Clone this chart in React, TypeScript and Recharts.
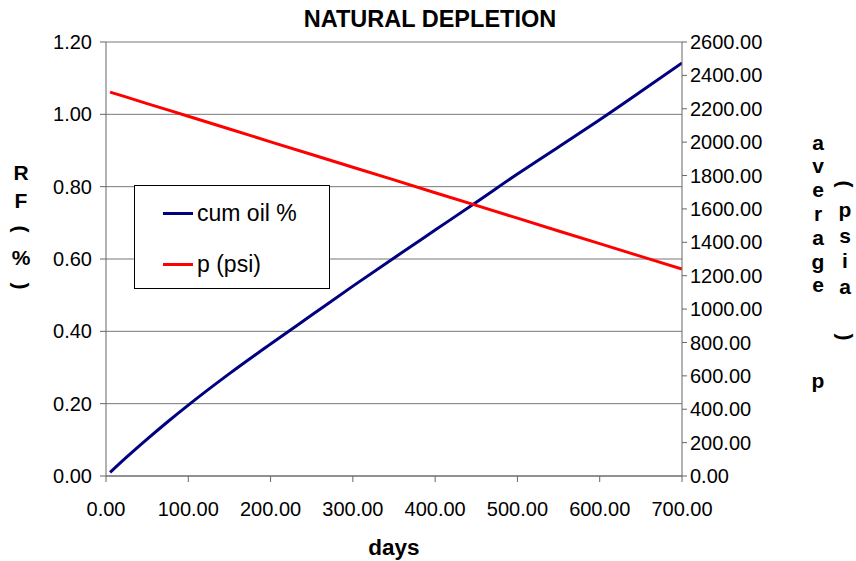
import React from "react";
import {
  LineChart,
  Line,
  XAxis,
  YAxis,
  CartesianGrid,
} from "recharts";

// Days since start of production
const days = [5, 25, 50, 75, 100, 150, 200, 250, 300, 350, 400, 450, 500, 550, 600, 650, 700];
// Cumulative oil recovery factor (%)
const cumOil = [0.01, 0.052, 0.102, 0.15, 0.196, 0.283, 0.365, 0.445, 0.525, 0.603, 0.68, 0.757, 0.835, 0.91, 0.985, 1.063, 1.142];
// Average reservoir pressure (psi)
const pressure = [2300, 2270, 2231, 2193, 2155, 2079, 2002, 1926, 1850, 1774, 1697, 1621, 1545, 1468, 1392, 1316, 1240];

const xTicks = [0, 100, 200, 300, 400, 500, 600, 700];
const leftTicks = [0, 0.2, 0.4, 0.6, 0.8, 1.0, 1.2];
const rightTicks = [0, 200, 400, 600, 800, 1000, 1200, 1400, 1600, 1800, 2000, 2200, 2400, 2600];

const title = "NATURAL DEPLETION";
const xTitle = "days";
const leftTitle = ["R", "F", "(", "%", ")"];
const rightTitleCol1 = ["a", "v", "e", "r", "a", "g", "e", "", "", "", "p"];
const rightTitleCol2 = ["(", "p", "s", "i", "a", "", ")"];

const seriesNames = { oil: "cum oil %", p: "p (psi)" };
const colors = { oil: "#000080", p: "#FF0000" };

const data = days.map((d, i) => ({ day: d, oil: cumOil[i], p: pressure[i] }));

const FONT = "'Liberation Sans', Arial, sans-serif";
const fmt = (v: number) => v.toFixed(2);

// One character of a vertically stacked title; brackets are turned sideways
function StackedChar({ ch, x, y }: { ch: string; x: number; y: number }) {
  if (!ch) return null;
  const isBracket = ch === "(" || ch === ")";
  return (
    <text
      x={x}
      y={y}
      textAnchor="middle"
      dominantBaseline="central"
      fontFamily={FONT}
      fontWeight="bold"
      fontSize={21}
      fill="#000"
      transform={isBracket ? `rotate(90 ${x} ${y})` : undefined}
    >
      {ch}
    </text>
  );
}

function LegendBox() {
  const items = [
    { key: "oil", label: seriesNames.oil, color: colors.oil },
    { key: "p", label: seriesNames.p, color: colors.p },
  ];
  return (
    <div
      style={{
        position: "absolute",
        left: 134,
        top: 185,
        width: 196,
        height: 104,
        border: "1px solid #000",
        background: "#fff",
        boxSizing: "border-box",
        fontFamily: FONT,
      }}
    >
      {items.map((it, i) => (
        <div
          key={it.key}
          style={{
            position: "absolute",
            left: 28,
            top: 27 + i * 51 - 14,
            height: 28,
            display: "flex",
            alignItems: "center",
          }}
        >
          <div style={{ width: 30, height: 3, background: it.color }} />
          <span style={{ fontSize: 23, color: "#000", marginLeft: 4 }}>{it.label}</span>
        </div>
      ))}
    </div>
  );
}

export default function App() {
  return (
    <div style={{ position: "absolute", left: 0, top: 0, width: 856, height: 561, background: "#fff" }}>
      <LineChart
        width={856}
        height={561}
        data={data}
        margin={{ top: 42, right: 94, bottom: 35, left: 26 }}
      >
        <CartesianGrid yAxisId="left" vertical={false} stroke="#777" strokeWidth={1} ticks={leftTicks} />
        <XAxis
          dataKey="day"
          type="number"
          domain={[0, 700]}
          ticks={xTicks}
          interval={0}
          tickFormatter={fmt}
          stroke="#666"
          tickSize={6}
          tickMargin={20}
          height={50}
          tick={{ fill: "#000", fontSize: 20, fontFamily: FONT }}
          allowDataOverflow
        />
        <YAxis
          yAxisId="left"
          orientation="left"
          domain={[0, 1.2]}
          ticks={leftTicks}
          interval={0}
          tickFormatter={fmt}
          stroke="#666"
          width={80}
          tickSize={6}
          tickMargin={8}
          tick={{ fill: "#000", fontSize: 20, fontFamily: FONT }}
          allowDataOverflow
        />
        <YAxis
          yAxisId="right"
          orientation="right"
          domain={[0, 2600]}
          ticks={rightTicks}
          interval={0}
          tickFormatter={fmt}
          stroke="#666"
          width={80}
          tickSize={5}
          tickMargin={3}
          tick={{ fill: "#000", fontSize: 20, fontFamily: FONT, textAnchor: "start" }}
          allowDataOverflow
        />
        <Line
          yAxisId="left"
          type="monotone"
          dataKey="oil"
          name={seriesNames.oil}
          stroke={colors.oil}
          strokeWidth={3}
          dot={false}
          isAnimationActive={false}
        />
        <Line
          yAxisId="right"
          type="linear"
          dataKey="p"
          name={seriesNames.p}
          stroke={colors.p}
          strokeWidth={3}
          dot={false}
          isAnimationActive={false}
        />
      </LineChart>
      <LegendBox />
      <svg
        width={856}
        height={561}
        style={{ position: "absolute", left: 0, top: 0, pointerEvents: "none" }}
      >
        <text
          x={430}
          y={19}
          textAnchor="middle"
          dominantBaseline="central"
          fontFamily={FONT}
          fontWeight="bold"
          fontSize={23.5}
          fill="#000"
        >
          {title}
        </text>
        <text
          x={394}
          y={547}
          textAnchor="middle"
          dominantBaseline="central"
          fontFamily={FONT}
          fontWeight="bold"
          fontSize={22.5}
          fill="#000"
        >
          {xTitle}
        </text>
        {leftTitle.map((ch, i) => (
          <StackedChar key={"l" + i} ch={ch} x={21} y={172 + i * 28.5} />
        ))}
        {rightTitleCol1.map((ch, i) => (
          <StackedChar key={"r1" + i} ch={ch} x={818} y={142 + i * 23.8} />
        ))}
        {rightTitleCol2.map((ch, i) => (
          <StackedChar key={"r2" + i} ch={ch} x={845} y={184 + i * 25.5} />
        ))}
      </svg>
    </div>
  );
}
